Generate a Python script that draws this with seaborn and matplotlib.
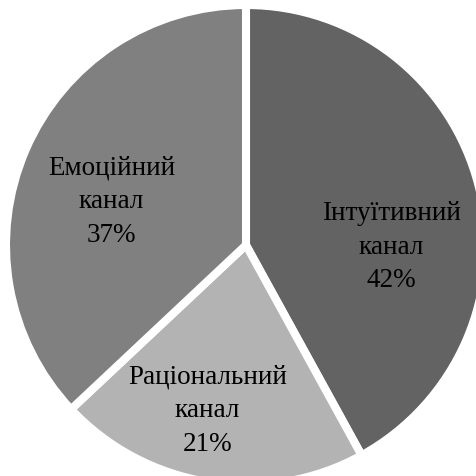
import matplotlib
matplotlib.use("Agg")
import matplotlib.pyplot as plt
import seaborn as sns

categories = ["Інтуїтивний\nканал", "Раціональний\nканал", "Емоційний\nканал"]
values = [42, 21, 37]
colors = ["#636363", "#b3b3b3", "#808080"]

sns.set_theme(style="white")
plt.rcParams["font.family"] = ["Liberation Serif", "DejaVu Serif"]

fig = plt.figure(figsize=(4.76, 4.76), dpi=100)
ax = fig.add_axes([0, 0, 1, 1])
wedges, _ = ax.pie(values, colors=colors, startangle=90, counterclock=False,
                   radius=1.0,
                   wedgeprops=dict(edgecolor="white", linewidth=5.8))

# label positions (in pie-radius units)
label_pos = [(0.605, -0.01), (-0.16, -0.69), (-0.56, 0.18)]
for (x, y), cat, v in zip(label_pos, categories, values):
    ax.text(x, y, f"{cat}\n{v}%", ha="center", va="center", fontsize=19.5,
            color="black", linespacing=1.45)

R = 240.0
cx, cy = 246.0, 245.0
ax.set_xlim(-cx / R, (476 - cx) / R)
ax.set_ylim(-(476 - cy) / R, cy / R)
ax.axis("off")
fig.savefig("out.png", dpi=100, facecolor="white")
